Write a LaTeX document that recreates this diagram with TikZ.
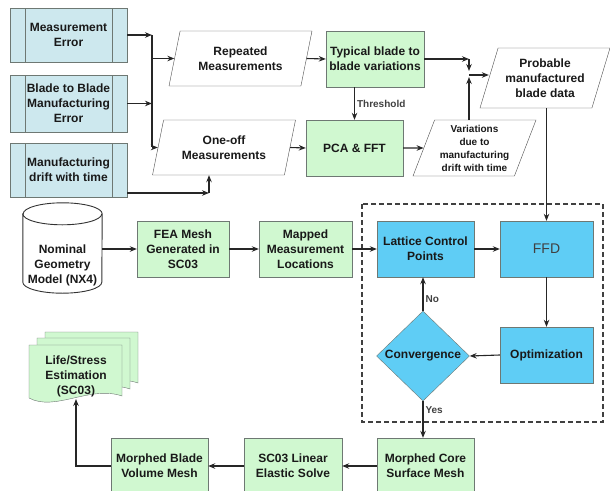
\documentclass[tikz,border=0pt]{standalone}
\usepackage{fontspec}
\setmainfont{Liberation Sans}
\usetikzlibrary{shapes.geometric,arrows.meta}
\definecolor{boxgreen}{RGB}{208,248,208}
\definecolor{boxblue}{RGB}{95,205,245}
\definecolor{boxcyan}{RGB}{205,232,238}
\definecolor{boxline}{RGB}{110,120,115}
\tikzset{
  txt/.style={font=\bfseries\fontsize{12}{15}\selectfont, align=center, inner sep=0pt, text=black!90},
  greenbox/.style={txt, draw=boxline, fill=boxgreen, minimum width=97, minimum height=56},
  bluebox/.style={txt, draw=boxline, fill=boxblue, minimum width=97, minimum height=56},
  inputbox/.style={txt, draw=boxline, fill=boxcyan, minimum width=117, minimum height=54,
    path picture={\draw[boxline]
      ([xshift=15pt]path picture bounding box.north west) -- ([xshift=15pt]path picture bounding box.south west)
      ([xshift=-15pt]path picture bounding box.north east) -- ([xshift=-15pt]path picture bounding box.south east);}},
  datashape/.style={txt, draw=black!70, fill=white, trapezium, trapezium left angle=65,
    trapezium right angle=115, trapezium stretches body, minimum width=143, minimum height=55},
  decision/.style={txt, draw=boxline, fill=boxblue, diamond, minimum width=93, minimum height=90},
  wire/.style={line width=1.1pt, black!85},
  arr/.style={wire, -{Stealth[length=7pt,width=5.5pt]}},
  tag/.style={font=\bfseries\fontsize{10}{12}\selectfont, inner sep=2pt, text=black!75},
}
\begin{document}
\begin{tikzpicture}[x=1pt,y=-1pt]
\useasboundingbox (0,0) rectangle (610,490);
% inputs
\node[inputbox] (meas) at (68.5,35) {Measurement\\Error};
\node[inputbox, minimum height=57] (b2b) at (68.5,103.5) {Blade to Blade\\Manufacturing\\Error};
\node[inputbox] (drift) at (68.5,170) {Manufacturing\\drift with time};
% measurement data
\node[datashape] (rep) at (240.5,58.5) {Repeated\\Measurements};
\node[datashape] (oneoff) at (224,147.5) {One-off\\Measurements};
\node[greenbox, minimum width=98] (typ) at (375,59) {Typical blade to\\blade variations};
\node[greenbox] (pca) at (354.5,148) {PCA \& FFT};
\node[datashape, minimum width=123, minimum height=56, font=\bfseries\fontsize{10}{13}\selectfont] (var) at (474.5,148) {Variations\\due to\\manufacturing\\drift with time};
\node[datashape, minimum width=130, minimum height=60] (prob) at (545,78) {Probable\\manufactured\\blade data};
% geometry
\node[minimum width=79, minimum height=90, inner sep=0pt] (nom) at (62.5,248) {};
\draw[black!80, line width=0.9pt, fill=white]
  ([yshift=-11pt]nom.north west) -- ([yshift=11pt]nom.south west) arc (180:360:39.5pt and 11pt)
  -- ([yshift=-11pt]nom.north east) arc (0:180:39.5pt and 11pt) -- cycle;
\draw[black!80, line width=0.9pt] ([yshift=-11pt]nom.north west) arc (180:360:39.5pt and 11pt);
\node[txt] (nomtext) at (62.5,265) {Nominal\\Geometry\\Model (NX4)};
\node[greenbox, minimum width=92] (fea) at (183,249) {FEA Mesh\\Generated in\\SC03};
\node[greenbox, minimum width=93] (map) at (305.5,249) {Mapped\\Measurement\\Locations};
% FFD loop
\draw[black!75, line width=1.1pt, dash pattern=on 5pt off 3pt] (362,204) rectangle (603,422);
\node[bluebox] (lat) at (425.5,249) {Lattice Control\\Points};
\node[bluebox, minimum width=93, font=\fontsize{14}{16}\selectfont, text=black!75] (ffd) at (546.5,249) {FFD};
\node[bluebox, minimum width=93] (opt) at (546.5,355) {Optimization};
\node[decision] (conv) at (423,356) {Convergence};
% output chain
\node[greenbox] (core) at (425.5,466) {Morphed Core\\Surface Mesh};
\node[greenbox, minimum width=98] (sc) at (293,466) {SC03 Linear\\Elastic Solve};
\node[greenbox] (vol) at (159.5,466) {Morphed Blade\\Volume Mesh};
\foreach \dx/\dy in {16/-13, 8/-7, 0/0}
  \draw[draw=boxline, fill=boxgreen] (29+\dx,345+\dy) -- (122+\dx,345+\dy) -- (122+\dx,396+\dy)
    .. controls (90+\dx,385+\dy) and (55+\dx,412+\dy) .. (29+\dx,398+\dy) -- cycle;
\node[txt] (life) at (76,376) {Life/Stress\\Estimation\\(SC03)};
\coordinate (lifebot) at (76,399);
% connectors
\coordinate (bus) at (152,35);
\coordinate (busend) at (152,147);
\coordinate (dk) at (209,193);
\coordinate (jn) at (469,75);
\draw[arr] (meas.east) -- (meas.east -| bus);
\draw[arr] (b2b.east) -- (b2b.east -| bus);
\draw[wire] (bus) -- (busend);
\draw[arr] (bus |- rep.west) -- (rep.west);
\draw[arr] (busend |- oneoff.west) -- (oneoff.west);
\draw[arr] (drift.east |- dk) -- (dk);
\draw[arr] (dk) -- (dk |- oneoff.south);
\draw[arr] (rep.east) -- (typ.west);
\draw[arr] (oneoff.east) -- (pca.west);
\draw[arr] (typ.south -| pca.north) -- (pca.north) node[midway, right, tag] {Threshold};
\draw[arr] (pca.east) -- (var.west);
\draw[arr] (typ.east) -- (typ.east -| jn);
\draw[arr] (typ.east -| jn) -- ([yshift=4pt]jn);
\draw[arr] (var.north -| jn) -- ([yshift=-2pt]jn);
\draw[arr] (jn) -- (jn -| prob.west);
\draw[arr] (prob.south -| ffd.north) -- (ffd.north);
\draw[arr] ([yshift=-1pt]nom.east) -- (fea.west);
\draw[arr] (fea.east) -- (map.west);
\draw[arr] (map.east) -- (lat.west);
\draw[arr] (lat.east) -- (ffd.west);
\draw[arr] (ffd.south) -- (opt.north);
\draw[arr] (opt.west) -- (conv.east);
\draw[arr] (conv.north) -- (conv.north |- lat.south) node[pos=0.35, right, tag] {No};
\draw[arr] (conv.south) -- (conv.south |- core.north) node[pos=0.25, right, tag] {Yes};
\draw[arr] (core.west) -- (sc.east);
\draw[arr] (sc.west) -- (vol.east);
\draw[arr] (vol.west) -| (lifebot);
\end{tikzpicture}
\end{document}
